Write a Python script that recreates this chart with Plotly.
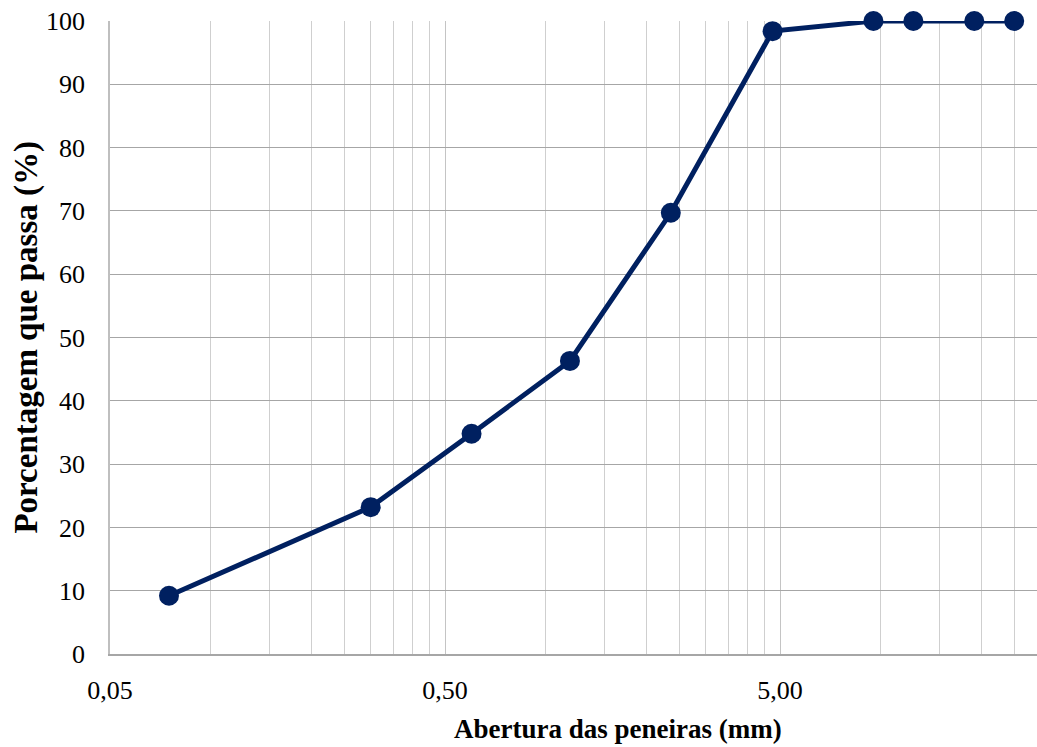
import math
import plotly.graph_objects as go

# Granulometric curve: sieve openings (mm) and cumulative % passing
abertura_mm = [0.075, 0.3, 0.6, 1.18, 2.36, 4.75, 9.5, 12.5, 19, 25]
passante_pct = [9.2, 23.2, 34.8, 46.3, 69.7, 98.4, 100, 100, 100, 100]

x_tickvals = [0.05, 0.5, 5]
x_ticktext = ["0,05", "0,50", "5,00"]
y_tickvals = [0, 10, 20, 30, 40, 50, 60, 70, 80, 90, 100]

# minor log gridlines at multiples of each decade's base value
x_minor = ([round(0.05 * k, 2) for k in range(2, 10)]
           + [round(0.5 * k, 1) for k in range(2, 10)]
           + [5 * k for k in range(2, 6)])

navy = "#002060"
serif = "Liberation Serif, Times New Roman, serif"

fig = go.Figure()
fig.add_trace(go.Scatter(
    x=abertura_mm, y=passante_pct, mode="lines+markers",
    line=dict(color=navy, width=5),
    marker=dict(color=navy, size=20),
    showlegend=False, cliponaxis=False,
))

fig.update_layout(
    width=1037, height=747,
    margin=dict(l=110, r=0, t=21, b=93),
    paper_bgcolor="white", plot_bgcolor="white",
    font=dict(family=serif, color="black", size=26),
    xaxis=dict(
        type="log",
        range=[math.log10(0.05), math.log10(0.05) + 2.767],
        tickvals=x_tickvals, ticktext=x_ticktext,
        showgrid=True, gridcolor="#c4c4c4", gridwidth=1,
        minor=dict(tickvals=x_minor, showgrid=True, gridcolor="#cfcfcf", gridwidth=1),
        showline=True, linecolor="#a6a6a6", linewidth=1.5,
        ticks="", ticklabelstandoff=12,
        tickfont=dict(family=serif, size=26),
        zeroline=False,
    ),
    yaxis=dict(
        range=[0, 100],
        tickvals=y_tickvals,
        showgrid=True, gridcolor="#a6a6a6", gridwidth=1,
        showline=True, linecolor="#bfbfbf", linewidth=1.5,
        ticks="", ticklabelstandoff=18,
        tickfont=dict(family=serif, size=26),
        zeroline=False,
    ),
    annotations=[
        dict(text="<b>Abertura das peneiras (mm)</b>", xref="paper", yref="paper",
             x=0.548, y=-0.1185, showarrow=False, xanchor="center", yanchor="middle",
             font=dict(family=serif, size=27)),
        dict(text="<b>Porcentagem que passa (%)</b>", xref="paper", yref="paper",
             x=-0.0905, y=0.5, showarrow=False, textangle=-90,
             xanchor="center", yanchor="middle",
             font=dict(family=serif, size=33)),
    ],
)

fig.write_html("out.html")
